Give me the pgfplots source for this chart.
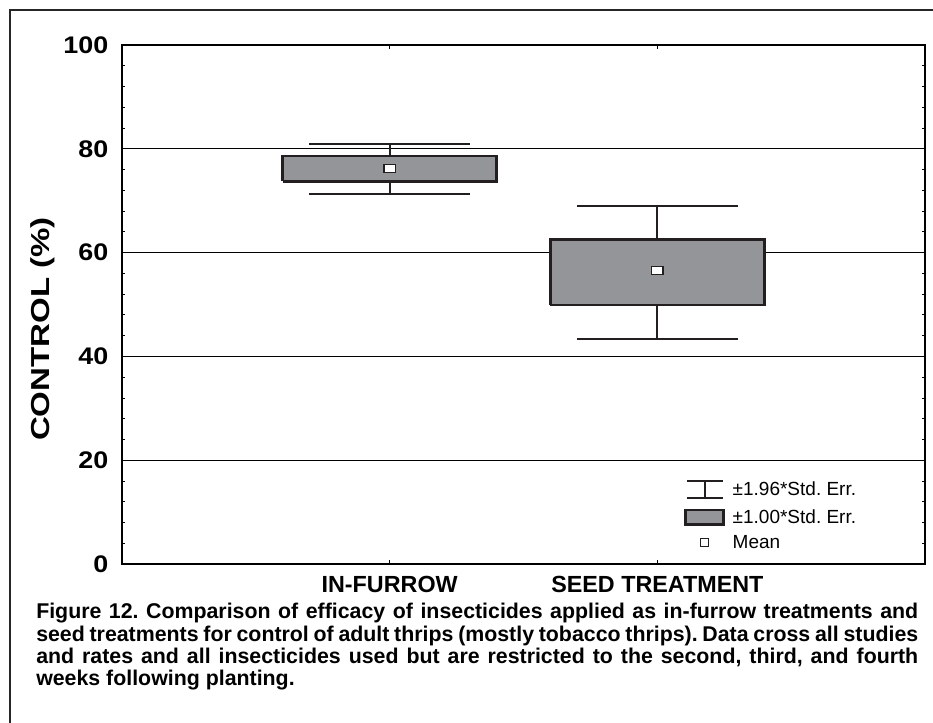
\documentclass[border=0pt]{standalone}
\usepackage{fontspec}
\setmainfont{Liberation Sans}
\usepackage{pgfplots}
\pgfplotsset{compat=1.18}
\definecolor{boxgray}{RGB}{147,149,152}
\definecolor{edge}{RGB}{35,31,32}
\newcommand\capfont{\bfseries\fontsize{16}{16}\selectfont\frenchspacing\spaceskip=0.278em plus 1fil minus 0.15em\xspaceskip=\spaceskip}
\frenchspacing
\begin{document}
\begin{tikzpicture}
\useasboundingbox (0,0) rectangle (699.75pt,542.25pt);
\draw[line width=1.8pt, black!85] (7.5pt,-2pt) -- (7.5pt,534.75pt) -- (702pt,534.75pt);
\begin{axis}[
  at={(91.5pt,119.25pt)}, anchor=south west,
  scale only axis, width=602.25pt, height=389.25pt,
  xmin=0, xmax=3, ymin=0, ymax=100,
  xtick={1,2}, xticklabels={IN-FURROW, SEED TREATMENT},
  ytick={0,20,...,100}, minor y tick num=4,
  ymajorgrids, grid style={line width=0.8pt, black},
  tick align=inside,
  major tick length=3pt, minor tick length=2.5pt,
  tick style={line width=0.6pt, black},
  axis line style={line width=1pt, black},
  /pgf/number format/assume math mode=true,
  ticklabel style={inner sep=0pt},
  yticklabel style={font=\bfseries\fontsize{18}{18}\selectfont, xscale=1.12, xshift=-9pt},
  xticklabel style={font=\bfseries\fontsize{17.5}{17.5}\selectfont, yshift=-9pt},
  ylabel={CONTROL (\%)},
  ylabel style={font=\bfseries\fontsize{19.5}{19.5}\selectfont, at={(axis description cs:-0.0984,0.4528)}, anchor=center, inner sep=0pt, xscale=1.27},
  legend style={draw=none, fill=none, at={(rel axis cs:0.6999,0.1618)}, anchor=north west,
    font=\fontsize{14.25}{14.25}\selectfont, row sep=7pt, inner sep=0pt, column sep=6pt,
    nodes={inner sep=0pt}},
  legend cell align=left,
]
% whiskers (+-1.96 SE)
\addplot[line width=1.5pt, edge, forget plot] coordinates {(1,71.3) (1,80.9)};
\addplot[line width=1.5pt, edge, forget plot] coordinates {(0.7,80.9) (1.3,80.9)};
\addplot[line width=1.5pt, edge, forget plot] coordinates {(0.7,71.3) (1.3,71.3)};
\addplot[line width=1.5pt, edge, forget plot] coordinates {(2,43.4) (2,68.9)};
\addplot[line width=1.5pt, edge, forget plot] coordinates {(1.7,68.9) (2.3,68.9)};
\addplot[line width=1.5pt, edge, forget plot] coordinates {(1.7,43.4) (2.3,43.4)};
% boxes (+-1.00 SE)
\addplot[fill=boxgray, draw=edge, line width=1.9pt, line join=miter, forget plot] coordinates {(0.6,73.7) (1.4,73.7) (1.4,78.65) (0.6,78.65) (0.6,73.7)};
\addplot[fill=boxgray, draw=edge, line width=1.9pt, line join=miter, forget plot] coordinates {(1.6,49.9) (2.4,49.9) (2.4,62.5) (1.6,62.5) (1.6,49.9)};
% means
\addplot[only marks, mark=square*, mark size=3pt, mark options={fill=white, draw=edge, line width=1pt, xscale=1.45}, forget plot] coordinates {(1,76.2) (2,56.5)};
% legend
\addlegendimage{legend image code/.code={\draw[line width=1.5pt, edge] (1pt,6.4pt)--(28pt,6.4pt) (14.5pt,6.4pt)--(14.5pt,-6.4pt) (1pt,-6.4pt)--(28pt,-6.4pt);}}
\addlegendentry{±1.96*Std. Err.}
\addlegendimage{legend image code/.code={\draw[fill=boxgray, draw=edge, line width=1.8pt] (0pt,-5.5pt) rectangle (28.5pt,5.5pt);}}
\addlegendentry{±1.00*Std. Err.}
\addlegendimage{legend image code/.code={\draw[fill=white, draw=edge, line width=0.9pt] (11.5pt,-3pt) rectangle (17pt,3pt);}}
\addlegendentry{Mean}
\end{axis}
\node[anchor=base west, inner sep=0pt, font=\capfont] at (27pt,78pt)
  {\hbox to 661.5pt{Figure 12. Comparison of efficacy of insecticides applied as in-furrow treatments and}};
\node[anchor=base west, inner sep=0pt, font=\capfont] at (27pt,61.25pt)
  {\hbox to 661.5pt{seed treatments for control of adult thrips (mostly tobacco thrips). Data cross all studies}};
\node[anchor=base west, inner sep=0pt, font=\capfont] at (27pt,44.5pt)
  {\hbox to 661.5pt{and rates and all insecticides used but are restricted to the second, third, and fourth}};
\node[anchor=base west, inner sep=0pt, font=\capfont] at (27pt,27.75pt)
  {weeks following planting.};
\end{tikzpicture}
\end{document}
